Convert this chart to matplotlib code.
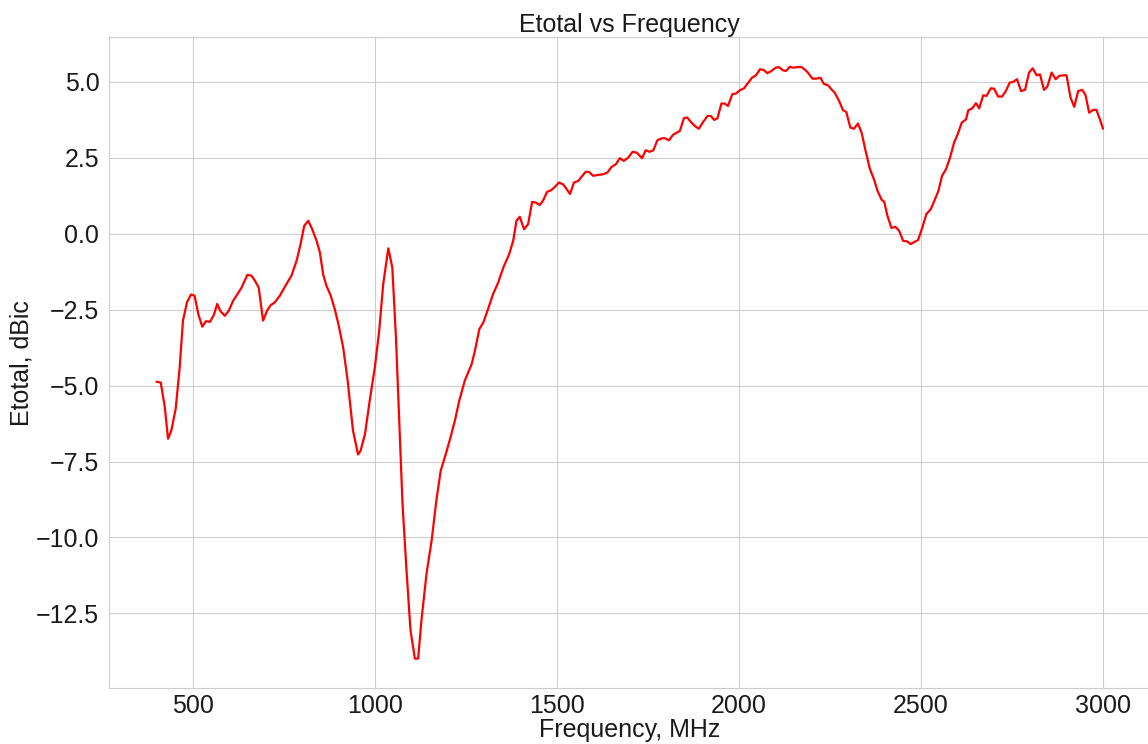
import numpy as np
import matplotlib
matplotlib.use("Agg")
import matplotlib.pyplot as plt
import seaborn as sns

# data
freq_mhz = [
    400, 412, 423, 432, 441, 453, 464, 473, 484, 495,
    505, 515, 526, 536, 547, 558, 567, 576, 588, 599,
    611, 622, 634, 650, 661, 671, 681, 693, 704, 714,
    725, 739, 757, 771, 785, 796, 806, 817, 828, 840,
    849, 858, 867, 879, 890, 901, 913, 925, 940, 954,
    961, 973, 986, 1000, 1012, 1023, 1037, 1048, 1058, 1067,
    1076, 1087, 1098, 1110, 1119, 1128, 1142, 1156, 1169, 1181,
    1195, 1208, 1220, 1232, 1247, 1266, 1275, 1287, 1298, 1311,
    1325, 1339, 1353, 1369, 1380, 1389, 1398, 1410, 1421, 1432,
    1442, 1453, 1462, 1473, 1485, 1495, 1506, 1517, 1527, 1536,
    1547, 1559, 1568, 1579, 1588, 1600, 1614, 1627, 1639, 1650,
    1662, 1673, 1684, 1696, 1708, 1720, 1734, 1744, 1755, 1765,
    1776, 1787, 1796, 1808, 1819, 1829, 1838, 1849, 1858, 1870,
    1879, 1890, 1902, 1914, 1923, 1932, 1941, 1952, 1961, 1970,
    1982, 1992, 2003, 2014, 2026, 2036, 2047, 2058, 2069, 2078,
    2089, 2101, 2110, 2120, 2129, 2140, 2149, 2160, 2172, 2183,
    2192, 2202, 2213, 2224, 2233, 2245, 2254, 2263, 2275, 2286,
    2295, 2306, 2316, 2327, 2337, 2348, 2360, 2371, 2381, 2392,
    2399, 2408, 2419, 2430, 2440, 2451, 2462, 2472, 2483, 2492,
    2504, 2515, 2527, 2537, 2548, 2558, 2569, 2580, 2591, 2601,
    2612, 2624, 2630, 2641, 2651, 2660, 2671, 2680, 2692, 2701,
    2712, 2723, 2733, 2744, 2753, 2764, 2775, 2786, 2797, 2807,
    2818, 2827, 2838, 2847, 2859, 2870, 2880, 2891, 2900, 2911,
    2921, 2932, 2943, 2952, 2962, 2973, 2982, 2993, 3000,
]
etotal_dbic = [
    -4.87, -4.90, -5.70, -6.75, -6.48, -5.76, -4.40, -2.86, -2.26, -2.00,
    -2.04, -2.64, -3.06, -2.88, -2.90, -2.67, -2.31, -2.55, -2.70, -2.53,
    -2.20, -2.00, -1.77, -1.35, -1.38, -1.55, -1.77, -2.86, -2.53, -2.35,
    -2.26, -2.04, -1.66, -1.38, -0.89, -0.34, 0.26, 0.43, 0.15, -0.23,
    -0.61, -1.33, -1.71, -2.04, -2.48, -3.03, -3.74, -4.80, -6.48, -7.27,
    -7.14, -6.59, -5.49, -4.40, -3.19, -1.66, -0.48, -1.11, -3.41, -6.15,
    -8.89, -11.09, -13.06, -13.99, -13.99, -12.73, -11.19, -10.10, -8.78, -7.80,
    -7.25, -6.70, -6.15, -5.49, -4.84, -4.29, -3.85, -3.14, -2.92, -2.48,
    -1.98, -1.60, -1.11, -0.67, -0.23, 0.43, 0.56, 0.15, 0.32, 1.05,
    1.03, 0.95, 1.09, 1.38, 1.44, 1.55, 1.69, 1.63, 1.47, 1.31,
    1.69, 1.74, 1.88, 2.04, 2.04, 1.91, 1.94, 1.96, 2.02, 2.20,
    2.29, 2.49, 2.40, 2.51, 2.70, 2.67, 2.49, 2.75, 2.70, 2.75,
    3.08, 3.14, 3.15, 3.08, 3.26, 3.33, 3.39, 3.81, 3.83, 3.66,
    3.55, 3.46, 3.69, 3.88, 3.88, 3.75, 3.80, 4.29, 4.29, 4.21,
    4.60, 4.62, 4.73, 4.79, 4.98, 5.14, 5.22, 5.42, 5.39, 5.29,
    5.36, 5.47, 5.49, 5.39, 5.36, 5.50, 5.47, 5.49, 5.49, 5.39,
    5.27, 5.11, 5.11, 5.14, 4.94, 4.89, 4.76, 4.65, 4.38, 4.07,
    4.01, 3.50, 3.46, 3.63, 3.33, 2.73, 2.13, 1.80, 1.41, 1.12,
    1.06, 0.59, 0.19, 0.23, 0.10, -0.23, -0.25, -0.34, -0.26, -0.21,
    0.21, 0.65, 0.81, 1.09, 1.41, 1.91, 2.13, 2.51, 3.00, 3.28,
    3.66, 3.77, 4.07, 4.13, 4.30, 4.13, 4.56, 4.54, 4.79, 4.78,
    4.52, 4.52, 4.70, 4.98, 5.00, 5.09, 4.70, 4.74, 5.31, 5.45,
    5.22, 5.25, 4.74, 4.84, 5.31, 5.09, 5.20, 5.22, 5.22, 4.48,
    4.18, 4.70, 4.74, 4.57, 3.99, 4.08, 4.08, 3.72, 3.46,
]

sns.set_style("whitegrid")
plt.rcParams['font.family'] = ['Liberation Sans', 'DejaVu Sans']

fig = plt.figure(figsize=(11.48, 7.44), dpi=100)
ax = fig.add_axes([0.095, 0.075, 0.907, 0.875])

ax.plot(freq_mhz, etotal_dbic, color='red', linewidth=1.6)

ax.set_title("Etotal vs Frequency", fontsize=18, color='0.1', pad=4)
ax.set_xlabel("Frequency, MHz", fontsize=18, color='0.1', labelpad=0)
ax.set_ylabel("Etotal, dBic", fontsize=18, color='0.1', labelpad=2)
ax.tick_params(labelsize=18, colors='0.1')
ax.tick_params(axis='x', pad=1)
ax.set_xticks([500, 1000, 1500, 2000, 2500, 3000])
ax.set_yticks([-12.5, -10.0, -7.5, -5.0, -2.5, 0.0, 2.5, 5.0])
ax.set_yticklabels([f"{t:.1f}".replace('-', '\u2212') for t in ax.get_yticks()])

fig.savefig("out.png", dpi=100)
